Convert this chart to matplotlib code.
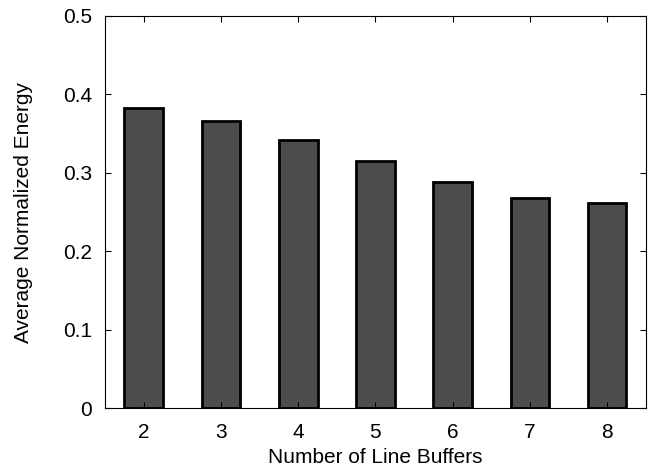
import matplotlib.pyplot as plt

plt.rcParams["font.family"] = ["Liberation Sans", "DejaVu Sans"]

buffers = [2, 3, 4, 5, 6, 7, 8]
energy = [0.383, 0.366, 0.342, 0.315, 0.288, 0.268, 0.262]
yticks = [0, 0.1, 0.2, 0.3, 0.4, 0.5]
ytick_labels = ["0", "0.1", "0.2", "0.3", "0.4", "0.5"]

fig = plt.figure(figsize=(6.49, 4.68), dpi=100)
ax = fig.add_axes([0.162, 0.128, 0.833, 0.838])

ax.bar(buffers, energy, width=0.5, color="#4d4d4d", edgecolor="black", linewidth=2.0)

ax.set_xlim(1.5, 8.5)
ax.set_ylim(0, 0.5)
ax.set_xticks(buffers)
ax.set_yticks(yticks)
ax.set_yticklabels(ytick_labels)
ax.tick_params(direction="in", top=True, right=True, length=4, width=0.8,
               labelsize=15)
ax.tick_params(axis="x", pad=11)
ax.tick_params(axis="y", pad=9.5)
for s in ax.spines.values():
    s.set_linewidth(0.8)

ax.set_xlabel("Number of Line Buffers", fontsize=15)
ax.set_ylabel("Average Normalized Energy", fontsize=15)
ax.xaxis.set_label_coords(0.5, -0.103)
ax.yaxis.set_label_coords(-0.134, 0.5)

plt.savefig("out.png", dpi=100)
